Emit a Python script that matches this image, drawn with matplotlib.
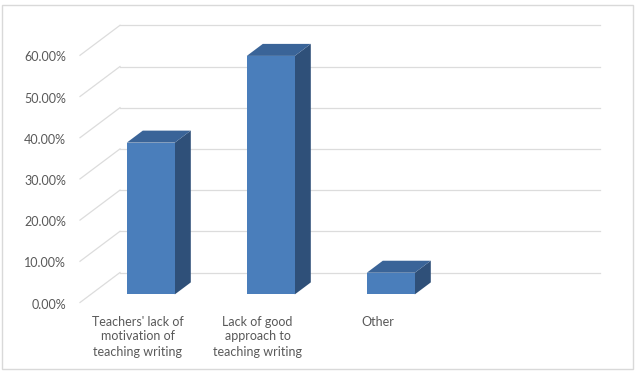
import matplotlib
matplotlib.use("Agg")
import matplotlib.pyplot as plt
from matplotlib.patches import Polygon, Rectangle

# ---- data ----
categories = ["Teachers' lack of\nmotivation of\nteaching writing",
              "Lack of good\napproach to\nteaching writing",
              "Other",
              ""]
values = [36.84, 57.89, 5.26, None]
yticks = [0, 10, 20, 30, 40, 50, 60]
ytick_labels = ["0.00%", "10.00%", "20.00%", "30.00%", "40.00%", "50.00%", "60.00%"]

# ---- styling / geometry ----
W, H = 637, 373
FRONT_X0 = 140.0      # px of category 0 centre on front plane
SLOT = 120.0          # px per category
Y0 = 302.5            # px of 0% on front plane
PPU = 41.2 / 10.0     # px per percent
DEPTH_PX = (40.0, 30.0)
dx = DEPTH_PX[0] / SLOT
dy = DEPTH_PX[1] / PPU

front_c = "#4a7ebb"
side_c = "#2f5079"
top_c = "#3a6498"
grid_c = "#dcdcdc"
text_c = "#595959"
font = ["Lato", "DejaVu Sans"]

fig = plt.figure(figsize=(W / 100, H / 100), dpi=100)
ax = fig.add_axes([0, 0, 1, 1])
ax.set_xlim((0 - FRONT_X0) / SLOT, (W - FRONT_X0) / SLOT)
ax.set_ylim((Y0 - H) / PPU, Y0 / PPU)
ax.axis("off")

# chart border
fig.patches.append(Rectangle((2 / W, 1 - 369 / H), 631 / W, 364 / H,
                             transform=fig.transFigure, fill=False,
                             edgecolor="#d9d9d9", linewidth=1.0))

n = len(categories)
xl, xr = -0.5, n - 0.5
# back wall gridlines + left wall diagonals
for v in yticks:
    ax.plot([xl + dx, xr + dx], [v + dy, v + dy], color=grid_c, lw=0.9, zorder=1)
    ax.plot([xl, xl + dx], [v, v + dy], color=grid_c, lw=0.9, zorder=1)

# tick labels
for v, lab in zip(yticks, ytick_labels):
    ax.text((66 - FRONT_X0) / SLOT, v - 0.5, lab, ha="right", va="center",
            fontsize=9, color=text_c, family=font)

# bars (3D look)
d0 = 0.27
bw = 0.4
bd = 0.4
ox, oy = dx * bd, dy * bd
for i, v in enumerate(values):
    if v is None:
        continue
    x = i + dx * d0
    b = dy * d0
    ax.bar(x, v, width=bw, bottom=b, color=front_c, zorder=3, linewidth=0)
    l, r, t = x - bw / 2, x + bw / 2, b + v
    ax.add_patch(Polygon([(r, b), (r, t), (r + ox, t + oy), (r + ox, b + oy)],
                         closed=True, facecolor=side_c, edgecolor="none", zorder=2))
    ax.add_patch(Polygon([(l, t), (r, t), (r + ox, t + oy), (l + ox, t + oy)],
                         closed=True, facecolor=top_c, edgecolor="none", zorder=3))

# category labels
for i, c in enumerate(categories):
    if c:
        ax.text(i - 0.02, (Y0 - 315.5) / PPU, c, ha="center", va="top",
                fontsize=9, color=text_c, family=font, linespacing=1.3)

fig.savefig("out.png", dpi=100)
